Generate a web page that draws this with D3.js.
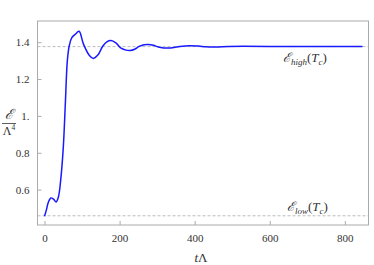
<!DOCTYPE html>
<html><head><meta charset="utf-8">
<script src="https://cdn.jsdelivr.net/npm/d3@7"></script>
<style>body{margin:0;background:#fff}svg{display:block}</style>
</head><body><svg id="c" width="374" height="265"></svg>
<script>
const tVals = [0,5,10,17,24,31,37,43,50,55.5,60.8,66,72.4,81,92,103.5,119.5,130,142,155,166,177,190,205,217,228,240,252,265,277,290,303,317,330,345,360,385,410,430,455,490,530,600,700,800,847];
const eVals = [0.455,0.49,0.53,0.555,0.548,0.533,0.56,0.65,0.829,1.069,1.30,1.382,1.424,1.441,1.459,1.391,1.328,1.312,1.33,1.378,1.402,1.409,1.396,1.366,1.357,1.355,1.362,1.377,1.386,1.388,1.383,1.374,1.369,1.368,1.371,1.376,1.381,1.379,1.375,1.374,1.377,1.378,1.377,1.377,1.377,1.377];
const xTicks = [0,200,400,600,800];
const yTicks = [0.6,0.8,1.0,1.2,1.4];
const yTickLabels = ["0.6","0.8","1.","1.2","1.4"];
const eHigh = 1.376, eLow = 0.458;

const FONT = "'Liberation Serif'";
const svg = d3.select("#c");
const L=37.5, R=368.5, T=21, B=225;
const x = d3.scaleLinear().domain([-18.7, 863]).range([L, R]);
const y = d3.scaleLinear().domain([0.408, 1.515]).range([B, T]);

[eHigh, eLow].forEach(v=>{
  svg.append("line").attr("x1",L).attr("x2",R).attr("y1",y(v)).attr("y2",y(v))
    .attr("stroke","#bbb").attr("stroke-width",1).attr("stroke-dasharray","3,2");
});

svg.append("rect").attr("x",L).attr("y",T).attr("width",R-L).attr("height",B-T)
  .attr("fill","none").attr("stroke","#aaa").attr("stroke-width",1);

const xAxis = d3.axisBottom(x).tickValues(xTicks).tickSizeInner(-4).tickSizeOuter(0).tickPadding(9).tickFormat(d3.format("d"));
const gx = svg.append("g").attr("transform",`translate(0,${B})`).call(xAxis);
const yAxis = d3.axisLeft(y).tickValues(yTicks).tickSizeInner(-4).tickSizeOuter(0).tickPadding(8).tickFormat((d,i)=>yTickLabels[i]);
const gy = svg.append("g").attr("transform",`translate(${L},0)`).call(yAxis);
[gx,gy].forEach(g=>{
  g.attr("font-family",null);
  g.select(".domain").remove();
  g.selectAll("line").attr("stroke","#aaa");
  g.selectAll("text").attr("fill","#333").style("font-family",FONT).style("font-size","11px");
});

const data = tVals.map((t,i)=>[t,eVals[i]]);
svg.append("path").datum(data)
  .attr("d", d3.line().x(d=>x(d[0])).y(d=>y(d[1])).curve(d3.curveCatmullRom.alpha(0.5)))
  .attr("fill","none").attr("stroke","#1a1aff").attr("stroke-width",1.5);

function label(xp, yp, sub){
  const t = svg.append("text").attr("x",xp).attr("y",yp).style("font-family",FONT).style("font-size","13px").attr("fill","#333");
  t.append("tspan").text("ℰ").attr("font-style","italic");
  t.append("tspan").text(sub).style("font-size","9px").attr("font-style","italic").attr("dy",3);
  t.append("tspan").text("(").attr("dy",-3);
  t.append("tspan").text("T").attr("font-style","italic");
  t.append("tspan").text("c").style("font-size","9px").attr("font-style","italic").attr("dy",2.5);
  t.append("tspan").text(")").attr("dy",-2.5);
}
label(283, 62, "high");
label(287, 211, "low");

svg.append("text").attr("x",201).attr("y",262).attr("text-anchor","middle").style("font-family",FONT).style("font-size","13px").attr("fill","#333")
  .html('<tspan font-style="italic">t</tspan>Λ');
svg.append("text").attr("x",9).attr("y",119).attr("text-anchor","middle").style("font-family",FONT).style("font-size","14px").attr("fill","#333").attr("font-style","italic").text("ℰ");
svg.append("line").attr("x1",2).attr("x2",16).attr("y1",123.5).attr("y2",123.5).attr("stroke","#333").attr("stroke-width",0.8);
svg.append("text").attr("x",9).attr("y",135).attr("text-anchor","middle").style("font-family",FONT).style("font-size","12px").attr("fill","#333")
  .html('Λ<tspan style="font-size:7.5px" dy="-5">4</tspan>');
</script></body></html>
